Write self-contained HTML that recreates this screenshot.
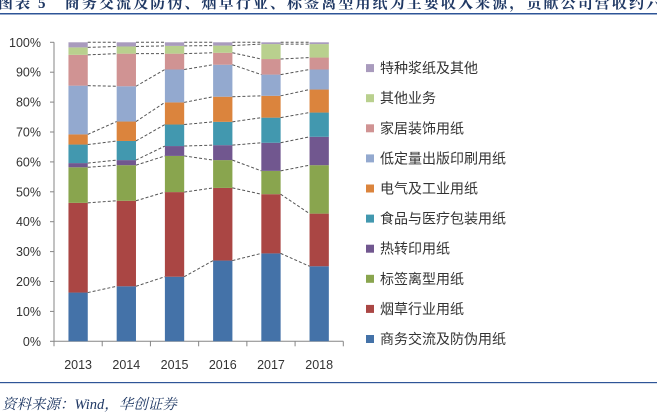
<!DOCTYPE html>
<html><head><meta charset="utf-8">
<style>
body{margin:0;background:#fff;width:657px;height:414px;overflow:hidden;}
svg{display:block;}
</style></head>
<body>
<svg id="chart" width="657" height="414" xmlns="http://www.w3.org/2000/svg">
<text x="-2" y="8" font-family="Liberation Serif, Noto Serif CJK SC, serif" font-weight="bold" font-size="15" letter-spacing="2.1" fill="#1f3864">图表 5　商务交流及防伪、烟草行业、标签离型用纸为主要收入来源，贡献公司营收约六</text>
<rect x="0" y="13" width="657" height="1.5" fill="#2e5597"/>
<rect x="0" y="382" width="657" height="1.2" fill="#2e5597"/>
<text x="2" y="409" font-family="Liberation Serif, Noto Serif CJK SC, serif" font-style="italic" font-size="14.5" fill="#1f3864">资料来源：Wind，华创证券</text>
<g id="plot"></g>
</svg>
<script>
const categories = ["2013","2014","2015","2016","2017","2018"];
const seriesNames = ["商务交流及防伪用纸","烟草行业用纸","标签离型用纸","热转印用纸","食品与医疗包装用纸","电气及工业用纸","低定量出版印刷用纸","家居装饰用纸","其他业务","特种浆纸及其他"];
const seriesColors = ["#4472a8","#aa4644","#89a54e","#71578f","#4298af","#db843d","#93a9cf","#d09393","#b9d08e","#a99bbd"];
const s0 = [16.3,18.4,21.6,27.0,29.4,25.1];
const s1 = [30.0,28.6,28.3,24.3,19.8,17.6];
const s2 = [11.9,11.9,12.1,9.3,7.8,16.2];
const s3 = [1.4,1.7,3.3,5.0,9.4,9.5];
const s4 = [6.2,6.4,7.2,7.8,8.4,8.1];
const s5 = [3.4,6.5,7.4,8.4,7.3,7.7];
const s6 = [16.3,11.8,11.0,10.7,7.1,6.7];
const s7 = [10.3,10.9,5.3,4.0,5.2,4.0];
const s8 = [2.5,2.4,2.6,2.4,5.0,4.5];
const s9 = [1.7,1.4,1.2,1.1,0.6,0.6];
const seriesValues = [s0,s1,s2,s3,s4,s5,s6,s7,s8,s9];
const yTicks = [0,10,20,30,40,50,60,70,80,90,100];

const NS="http://www.w3.org/2000/svg";
const g=document.getElementById('plot');
const x0=54,x1=343.3,y0=341.3,y1=42.3;
const bandW=(x1-x0)/categories.length, barW=19.3;
const yS=v=>y0-(v/100)*(y0-y1);
const xC=i=>x0+bandW*(i+0.5);
function mk(t,a){const e=document.createElementNS(NS,t);for(const k in a)e.setAttribute(k,a[k]);g.appendChild(e);return e;}
const font='Liberation Sans, Noto Sans CJK SC, sans-serif';
let ax=mk('line',{x1:x0,y1:y1,x2:x0,y2:y0,stroke:'#868686','stroke-width':1});


let bx=mk('line',{x1:x0,y1:y0,x2:x1,y2:y0,stroke:'#868686','stroke-width':1});


yTicks.forEach(v=>{
  const y=yS(v);
  mk('line',{x1:x0-4,y1:y,x2:x0,y2:y,stroke:'#868686'});
  const t=mk('text',{x:41,y:y+4.5,'text-anchor':'end','font-family':font,'font-size':12.5,fill:'#333'});
  t.textContent=v+'%';
  
  
});
for(let i=0;i<=categories.length;i++){mk('line',{x1:x0+bandW*i,y1:y0,x2:x0+bandW*i,y2:y0+5,stroke:'#868686'});}
categories.forEach((c,i)=>{
  const t=mk('text',{x:xC(i),y:369,'text-anchor':'middle','font-family':font,'font-size':12.5,fill:'#333'});
  t.textContent=c;
  
  
});
const cum=categories.map(()=>0);
const tops=[];
seriesValues.forEach((vals,s)=>{
  const row=[];
  vals.forEach((v,i)=>{
    const b=cum[i], t=b+v; cum[i]=t;
    const r=mk('rect',{x:xC(i)-barW/2,y:yS(t),width:barW,height:yS(b)-yS(t),fill:seriesColors[s]});
    
    
    row.push(t);
  });
  tops.push(row);
});
tops.forEach(row=>{
  for(let i=0;i<row.length-1;i++){
    const l=mk('line',{x1:xC(i)+barW/2,y1:yS(row[i]),x2:xC(i+1)-barW/2,y2:yS(row[i+1]),stroke:'#555','stroke-width':1,'stroke-dasharray':'3,2'});
    
    
  }
});
seriesNames.forEach((n,s)=>{
  const y=339-s*30.1;
  const m=mk('rect',{x:366,y:y-4,width:8,height:8,fill:seriesColors[s]});
  
  
  const t=mk('text',{x:380,y:y+5,'font-family':font,'font-size':14,fill:'#333'});
  t.textContent=n;
  
  
});
</script>
</body></html>
